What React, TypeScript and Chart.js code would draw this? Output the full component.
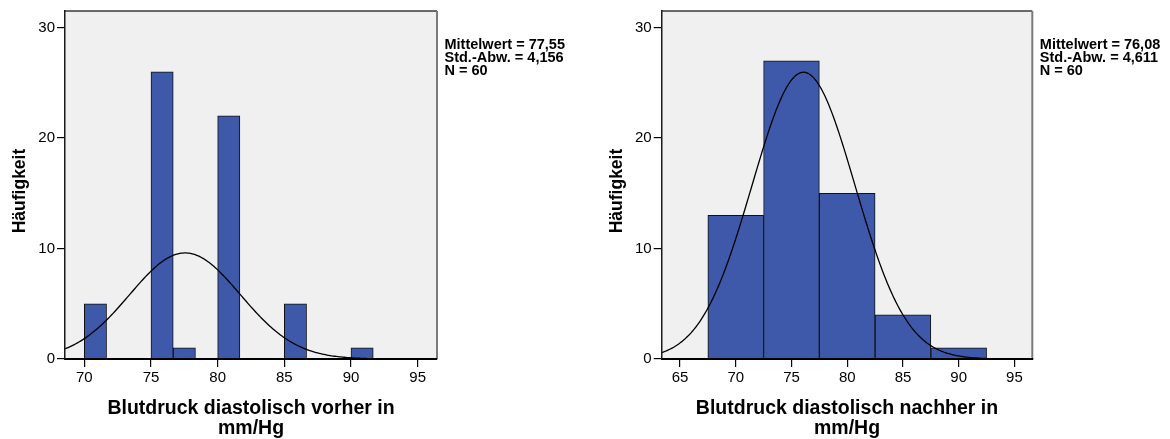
import React, { useEffect, useRef } from 'react';
import { Chart, registerables } from 'chart.js';

Chart.register(...registerables);

// ---------- data ----------
const LEFT_BIN_CENTERS = [70.833, 75.833, 77.5, 80.833, 85.833, 90.833];
const LEFT_COUNTS = [5, 26, 1, 22, 5, 1];
const LEFT_BIN_WIDTH = 5 / 3;
const LEFT_MEAN = 77.55;
const LEFT_SD = 4.156;
const LEFT_N = 60;
const LEFT_X_TICKS = [70, 75, 80, 85, 90, 95];
const LEFT_X_RANGE = [68.55, 96.45];
const LEFT_STATS = ['Mittelwert = 77,55', 'Std.-Abw. = 4,156', 'N = 60'];
const LEFT_TITLE = ['Blutdruck diastolisch vorher in', 'mm/Hg'];

const RIGHT_BIN_CENTERS = [70, 75, 80, 85, 90];
const RIGHT_COUNTS = [13, 27, 15, 4, 1];
const RIGHT_BIN_WIDTH = 5;
const RIGHT_MEAN = 76.08;
const RIGHT_SD = 4.611;
const RIGHT_N = 60;
const RIGHT_X_TICKS = [65, 70, 75, 80, 85, 90, 95];
const RIGHT_X_RANGE = [63.36, 96.6];
const RIGHT_STATS = ['Mittelwert = 76,08', 'Std.-Abw. = 4,611', 'N = 60'];
const RIGHT_TITLE = ['Blutdruck diastolisch nachher in', 'mm/Hg'];

const Y_TICKS = [0, 10, 20, 30];
const Y_MAX = 31.5;
const Y_TITLE = 'Häufigkeit';

// ---------- helpers ----------
const FONT = '"Liberation Sans", Arial, Helvetica, sans-serif';
const BAR_COLOR = '#3e59a9';

// normal curve overlay defined by the displayed mean / sd / N
function normalCurve(mean: number, sd: number, n: number, binWidth: number, range: number[]) {
  const pts: { x: number; y: number }[] = [];
  const steps = 240;
  for (let i = 0; i <= steps; i++) {
    const x = range[0] + ((range[1] - range[0]) * i) / steps;
    const z = (x - mean) / sd;
    const y = (n * binWidth) / (sd * Math.sqrt(2 * Math.PI)) * Math.exp(-0.5 * z * z);
    pts.push({ x, y });
  }
  return pts;
}

const framePlugin = {
  id: 'frame',
  beforeDraw(chart: any) {
    const { ctx, chartArea: a } = chart;
    ctx.save();
    ctx.fillStyle = '#f0f0f0';
    ctx.fillRect(a.left, a.top, a.right - a.left, a.bottom - a.top);
    ctx.restore();
  },
  afterDatasetsDraw(chart: any) {
    const { ctx, chartArea: a } = chart;
    ctx.save();
    ctx.lineWidth = 1.5;
    ctx.strokeStyle = '#3a3a3a';
    ctx.beginPath();
    ctx.moveTo(a.left, a.top);
    ctx.lineTo(a.right, a.top);
    ctx.stroke();
    ctx.lineWidth = 2;
    ctx.strokeStyle = '#7a7a7a';
    ctx.beginPath();
    ctx.moveTo(a.right, a.top);
    ctx.lineTo(a.right, a.bottom);
    ctx.stroke();
    ctx.restore();
  },
};

function textPlugin(lines: string[], yTitleX: number) {
  return {
    id: 'texts',
    afterDraw(chart: any) {
      const { ctx, chartArea: a } = chart;
      ctx.save();
      ctx.font = `bold 14.5px ${FONT}`;
      ctx.fillStyle = '#000';
      ctx.textBaseline = 'middle';
      ctx.textAlign = 'left';
      lines.forEach((t, i) => {
        ctx.fillText(t, a.right + 7.5, a.top + 34 + i * 13);
      });
      // y-axis title
      ctx.font = `bold 17.5px ${FONT}`;
      ctx.textAlign = 'center';
      ctx.translate(yTitleX, 191);
      ctx.rotate(-Math.PI / 2);
      ctx.fillText(Y_TITLE, 0, 0);
      ctx.restore();
    },
  };
}

interface HistProps {
  centers: number[];
  counts: number[];
  binWidth: number;
  mean: number;
  sd: number;
  n: number;
  xTicks: number[];
  xRange: number[];
  stats: string[];
  title: string[];
  padLeft: number;
  yWidth: number;
  padRight: number;
  yTitleX: number;
  left: number;
}

function Histogram(p: HistProps) {
  const ref = useRef<HTMLCanvasElement | null>(null);
  useEffect(() => {
    if (!ref.current) return;
    const chart = new Chart(ref.current, {
      type: 'bar',
      data: {
        datasets: [
          {
            type: 'line',
            data: normalCurve(p.mean, p.sd, p.n, p.binWidth, p.xRange),
            borderColor: '#000',
            borderWidth: 1.3,
            pointRadius: 0,
            tension: 0,
            fill: false,
            order: 0,
          } as any,
          {
            type: 'bar',
            data: p.centers.map((c, i) => ({ x: c, y: p.counts[i] })),
            backgroundColor: BAR_COLOR,
            borderColor: '#111',
            borderWidth: 1,
            barPercentage: 1,
            categoryPercentage: 1,
            grouped: false,
            order: 1,
          } as any,
        ],
      },
      options: {
        responsive: false,
        animation: false,
        layout: { padding: { left: p.padLeft, right: p.padRight, top: 9, bottom: 0 } },
        plugins: { legend: { display: false }, tooltip: { enabled: false } },
        scales: {
          x: {
            type: 'linear',
            min: p.xRange[0],
            max: p.xRange[1],
            offset: false,
            afterBuildTicks: (s: any) => {
              s.ticks = p.xTicks.map((v) => ({ value: v }));
            },
            afterFit: (s: any) => {
              s.height = 80;
            },
            grid: {
              offset: false,
              drawOnChartArea: false,
              drawTicks: true,
              tickLength: 8,
              color: '#000',
              lineWidth: 1.2,
            },
            border: { display: true, color: '#000', width: 2, z: 1 },
            ticks: {
              autoSkip: false,
              maxRotation: 0,
              color: '#000',
              padding: 2,
              font: { family: FONT, size: 15 },
            },
            title: {
              display: true,
              text: p.title,
              color: '#000',
              font: { family: FONT, size: 19.5, weight: 'bold', lineHeight: 20 / 19.5 },
              padding: { top: 0, bottom: 0 },
            },
          },
          y: {
            type: 'linear',
            min: 0,
            max: Y_MAX,
            afterBuildTicks: (s: any) => {
              s.ticks = Y_TICKS.map((v) => ({ value: v }));
            },
            afterFit: (s: any) => {
              s.width = p.yWidth;
            },
            grid: {
              drawOnChartArea: false,
              drawTicks: true,
              tickLength: 8,
              color: '#000',
              lineWidth: 1.2,
            },
            border: { display: true, color: '#1a1a1a', width: 1.5, z: 1 },
            ticks: {
              color: '#000',
              padding: 2,
              font: { family: FONT, size: 15 },
            },
            title: { display: false },
          },
        },
      } as any,
      plugins: [framePlugin, textPlugin(p.stats, p.yTitleX)],
    });
    return () => chart.destroy();
  }, []);
  return (
    <canvas
      ref={ref}
      width={585}
      height={439}
      style={{ position: 'absolute', left: p.left, top: 0, width: 585, height: 439 }}
    />
  );
}

export default function App() {
  return (
    <div style={{ position: 'absolute', left: 0, top: 0, width: 1170, height: 439, background: '#fff' }}>
      <Histogram
        centers={LEFT_BIN_CENTERS}
        counts={LEFT_COUNTS}
        binWidth={LEFT_BIN_WIDTH}
        mean={LEFT_MEAN}
        sd={LEFT_SD}
        n={LEFT_N}
        xTicks={LEFT_X_TICKS}
        xRange={LEFT_X_RANGE}
        stats={LEFT_STATS}
        title={LEFT_TITLE}
        padLeft={0}
        yWidth={65}
        padRight={148}
        yTitleX={20}
        left={0}
      />
      <Histogram
        centers={RIGHT_BIN_CENTERS}
        counts={RIGHT_COUNTS}
        binWidth={RIGHT_BIN_WIDTH}
        mean={RIGHT_MEAN}
        sd={RIGHT_SD}
        n={RIGHT_N}
        xTicks={RIGHT_X_TICKS}
        xRange={RIGHT_X_RANGE}
        stats={RIGHT_STATS}
        title={RIGHT_TITLE}
        padLeft={12}
        yWidth={64.7}
        padRight={137.7}
        yTitleX={32}
        left={585}
      />
    </div>
  );
}
